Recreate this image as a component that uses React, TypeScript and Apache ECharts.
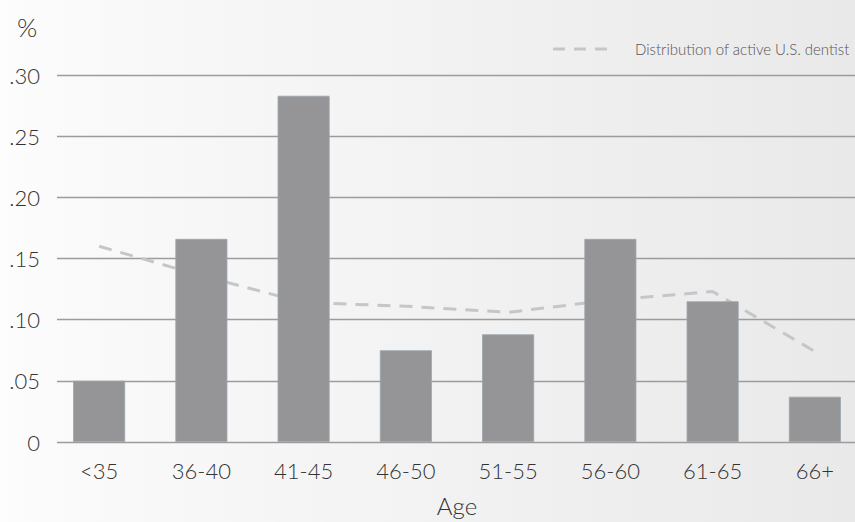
import React, { useEffect, useRef } from "react";
import * as echarts from "echarts";

const categories = ["<35", "36-40", "41-45", "46-50", "51-55", "56-60", "61-65", "66+"];
const barValues = [0.05, 0.166, 0.283, 0.075, 0.088, 0.166, 0.115, 0.037];
const lineValues = [0.16, 0.136, 0.114, 0.111, 0.106, 0.116, 0.123, 0.074];
const yTicks = { min: 0, max: 0.3, interval: 0.05 };
const legendLabel = "Distribution of active U.S. dentist";
const xName = "Age";
const yName = "%";

const FONT = "Lato, 'Noto Sans', sans-serif";

export default function App() {
  const ref = useRef<HTMLDivElement>(null);
  useEffect(() => {
    if (!ref.current) return;
    const chart = echarts.init(ref.current, undefined, { renderer: "svg" });
    const top = 75;
    const bottom = 80;
    chart.setOption({
      animation: false,
      backgroundColor: {
        type: "linear",
        x: 0,
        y: 0,
        x2: 1,
        y2: 0,
        colorStops: [
          { offset: 0, color: "#fdfdfd" },
          { offset: 0.08, color: "#fafafa" },
          { offset: 1, color: "#e9e9ea" },
        ],
      },
      grid: [
        { left: 48, right: -11, top, bottom, outerBoundsMode: "none", containLabel: false },
        { left: 57, right: 0, top, bottom, outerBoundsMode: "none", containLabel: false },
      ],
      xAxis: [
        {
          type: "category",
          gridIndex: 0,
          data: categories,
          axisLine: { show: false },
          axisTick: { show: false },
          axisLabel: { color: "#333", fontFamily: FONT, fontWeight: 300, fontSize: 22, margin: 17 },
          name: xName,
          nameLocation: "middle",
          nameGap: 51,
          nameTextStyle: { color: "#333", fontFamily: FONT, fontWeight: 300, fontSize: 24 },
        },
        { type: "category", gridIndex: 1, data: categories, show: false },
      ],
      yAxis: [
        {
          type: "value",
          gridIndex: 0,
          min: yTicks.min,
          max: yTicks.max,
          interval: yTicks.interval,
          show: false,
          splitLine: { show: false },
        },
        {
          type: "value",
          gridIndex: 1,
          min: yTicks.min,
          max: yTicks.max,
          interval: yTicks.interval,
          axisLine: { show: false },
          axisTick: { show: false },
          axisLabel: {
            color: "#333",
            fontFamily: FONT,
            fontWeight: 300,
            fontSize: 22,
            margin: 17,
            formatter: (v: number) => (v === 0 ? "0" : v.toFixed(2).replace(/^0/, "")),
          },
          splitLine: { show: true, lineStyle: { color: "#9c9c9c", width: 1.3 } },
        },
      ],
      graphic: [
        {
          type: "text",
          left: 17,
          top: 14,
          style: { text: yName, fill: "#333", font: `300 26px ${FONT}` },
        },
        {
          type: "line",
          shape: { x1: 553, y1: 49, x2: 613, y2: 49 },
          style: { stroke: "#c3c7ca", lineWidth: 3, lineDash: [12, 9] },
        },
        {
          type: "text",
          x: 635,
          y: 49,
          style: {
            text: legendLabel,
            fill: "#555",
            font: `300 15px ${FONT}`,
            textVerticalAlign: "middle",
          },
        },
      ],
      series: [
        {
          type: "line",
          xAxisIndex: 0,
          yAxisIndex: 0,
          data: lineValues,
          symbol: "none",
          z: 1,
          lineStyle: { color: "#c3c7ca", width: 3, type: [13, 9] },
        },
        {
          type: "bar",
          xAxisIndex: 0,
          yAxisIndex: 0,
          data: barValues,
          barWidth: 52,
          z: 3,
          itemStyle: { color: "#959597", borderColor: "#9aa6ad", borderWidth: 0.8 },
        },
      ],
    });
    return () => chart.dispose();
  }, []);
  return (
    <div
      ref={ref}
      style={{ position: "fixed", left: 0, top: 0, width: 855, height: 522 }}
    />
  );
}
